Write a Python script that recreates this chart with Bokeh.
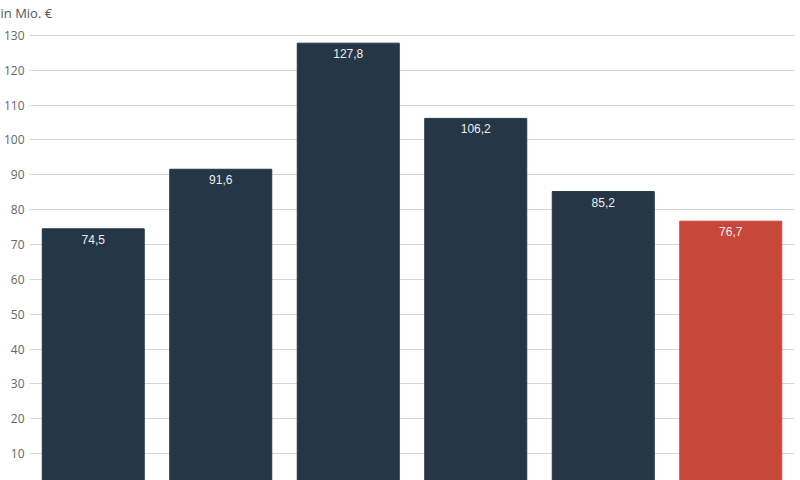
from bokeh.plotting import figure
from bokeh.models import FixedTicker, ColumnDataSource, Range1d, FactorRange
from bokeh.core.properties import value
from bokeh.embed import file_html
from bokeh.resources import INLINE

categories = ["1", "2", "3", "4", "5", "6"]
values = [74.5, 91.6, 127.8, 106.2, 85.2, 76.7]
bar_colors = ["#253746", "#253746", "#253746", "#253746", "#253746", "#c8473b"]
y_ticks = [10, 20, 30, 40, 50, 60, 70, 80, 90, 100, 110, 120, 130]
unit_label = "in Mio. €"

labels = [f"{v:.1f}".replace(".", ",") for v in values]
src = ColumnDataSource(dict(cat=categories, val=values, col=bar_colors, lab=labels))

p = figure(x_range=FactorRange(*categories, range_padding=0), y_range=Range1d(2.25, 133.73),
           width=800, height=480, output_backend="svg", toolbar_location=None,
           min_border_left=20, min_border_right=6, min_border_top=0, min_border_bottom=0)
p.title.text = unit_label
p.title.align = "left"
p.title.offset = -29
p.title.standoff = 2
p.title.text_color = "#555555"
p.title.text_font = "Open Sans"
p.title.text_font_style = "normal"
p.title.text_font_size = "13px"

p.outline_line_color = None
p.xaxis.visible = False
p.xgrid.grid_line_color = None
p.ygrid.ticker = FixedTicker(ticks=y_ticks)
p.ygrid.grid_line_color = "#d6d6d6"
p.ygrid.grid_line_width = 1

ax = p.yaxis[0]
ax.ticker = FixedTicker(ticks=y_ticks)
ax.axis_line_color = None
ax.major_tick_line_color = None
ax.minor_tick_line_color = None
ax.major_tick_out = 0
ax.major_tick_in = 0
ax.minor_tick_out = 0
ax.minor_tick_in = 0
ax.major_label_standoff = 5
ax.major_label_text_color = "#666666"
ax.major_label_text_font = "Open Sans"
ax.major_label_text_font_size = "12px"

p.vbar(x="cat", top="val", bottom=0, width=0.8, color="col", source=src)
p.text(x="cat", y="val", text="lab", source=src, text_align="center", text_baseline="top",
       y_offset=6, text_color="#eeeeee", text_font=value("Liberation Sans"), text_font_size="12px")

open("out.html", "w").write(file_html(p, INLINE))
